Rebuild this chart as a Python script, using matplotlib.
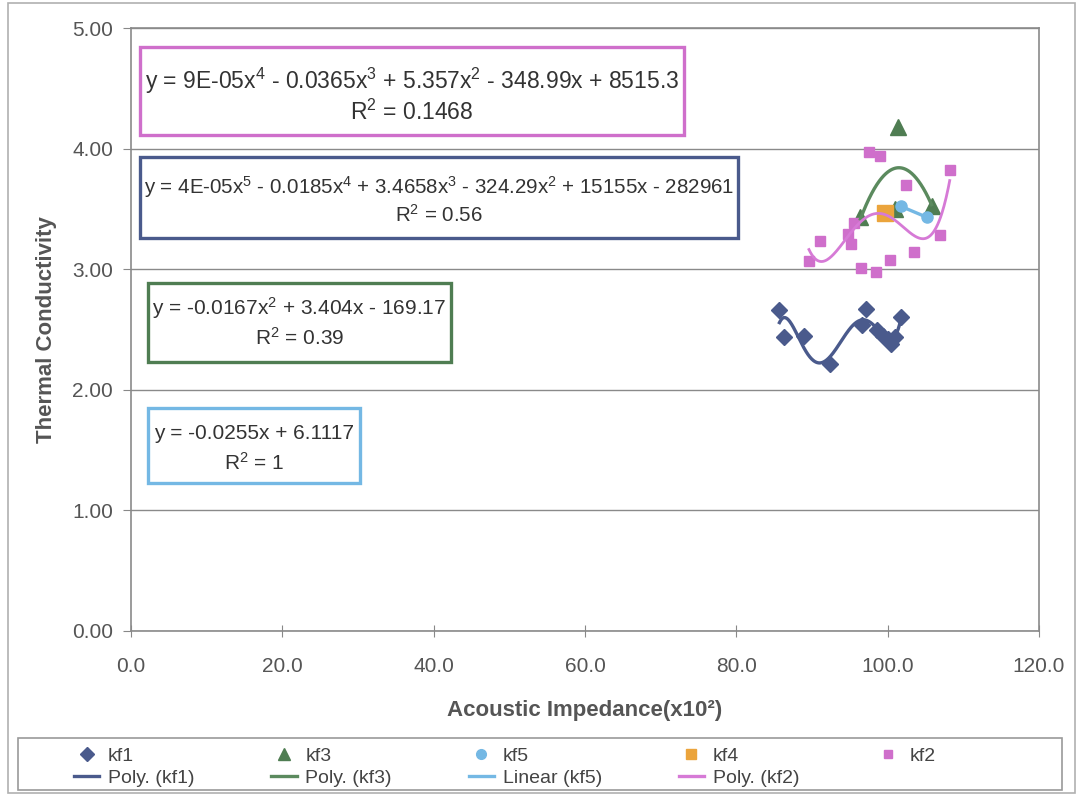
import numpy as np
import matplotlib
matplotlib.use("Agg")
import matplotlib.pyplot as plt
from matplotlib.lines import Line2D
from matplotlib.patches import Rectangle

plt.rcParams['font.family'] = ['Liberation Sans', 'DejaVu Sans']
plt.rcParams['mathtext.fontset'] = 'custom'
plt.rcParams['mathtext.rm'] = 'Liberation Sans'
plt.rcParams['mathtext.it'] = 'Liberation Sans:italic'
plt.rcParams['mathtext.bf'] = 'Liberation Sans:bold'

# measured samples
kf1_x = [85.7, 86.3, 88.9, 92.4, 96.6, 97.2, 98.6, 99.4, 100.0, 100.5, 101.0, 101.7]
kf1_y = [2.66, 2.44, 2.45, 2.21, 2.54, 2.67, 2.50, 2.45, 2.42, 2.38, 2.44, 2.60]

kf3_x = [96.4, 101.0, 101.4, 105.8]
kf3_y = [3.43, 3.50, 4.18, 3.52]

kf5_x = [101.8, 105.2]
kf5_y = [3.52, 3.43]

kf4_x = [99.7]
kf4_y = [3.47]

kf2_x = [89.6, 91.0, 94.8, 95.2, 95.5, 96.5, 97.5, 98.5, 99.0, 100.3, 102.4, 103.5, 106.9, 108.2]
kf2_y = [3.07, 3.23, 3.29, 3.21, 3.38, 3.01, 3.97, 2.98, 3.94, 3.08, 3.70, 3.14, 3.28, 3.82]

x_ticks = [0, 20, 40, 60, 80, 100, 120]
y_ticks = [0, 1, 2, 3, 4, 5]

eq_texts = [
    (r'y = 9E-05x$^{\mathrm{4}}$ - 0.0365x$^{\mathrm{3}}$ + 5.357x$^{\mathrm{2}}$ - 348.99x + 8515.3',
     r'R$^{\mathrm{2}}$ = 0.1468'),
    (r'y = 4E-05x$^{\mathrm{5}}$ - 0.0185x$^{\mathrm{4}}$ + 3.4658x$^{\mathrm{3}}$ - 324.29x$^{\mathrm{2}}$ + 15155x - 282961',
     r'R$^{\mathrm{2}}$ = 0.56'),
    (r'y = -0.0167x$^{\mathrm{2}}$ + 3.404x - 169.17', r'R$^{\mathrm{2}}$ = 0.39'),
    (r'y = -0.0255x + 6.1117', r'R$^{\mathrm{2}}$ = 1'),
]

c_kf1 = '#4a5a8c'
c_kf3 = '#4f7d52'
c_kf5 = '#74b8e4'
c_kf4 = '#eba43c'
c_kf2 = '#cf6fcb'
c_kf3_line = '#5b8a5e'
c_kf2_line = '#d67ad6'

W, H = 1079, 796
fig = plt.figure(figsize=(W / 100, H / 100), dpi=100)
fig.patch.set_facecolor('white')


def px_box(x0, y0, x1, y1):
    return x0 / W, 1 - y1 / H, (x1 - x0) / W, (y1 - y0) / H


ax = fig.add_axes(px_box(131, 28, 1039, 631))
ax.set_xlim(0, 120)
ax.set_ylim(0, 5)


def trend(xs, ys, deg):
    p = np.polynomial.Polynomial.fit(xs, ys, deg)
    xx = np.linspace(min(xs), max(xs), 200)
    return xx, p(xx)


ax.plot(kf1_x, kf1_y, 'D', color=c_kf1, ms=8, zorder=3)
ax.plot(kf3_x, kf3_y, '^', color=c_kf3, ms=11, zorder=3)
ax.plot(kf5_x, kf5_y, 'o', color=c_kf5, ms=8, zorder=3)
ax.plot(kf4_x, kf4_y, 's', color=c_kf4, ms=12, zorder=3)
ax.plot(kf2_x, kf2_y, 's', color=c_kf2, ms=6.5, zorder=3)

ax.plot(*trend(kf1_x, kf1_y, 5), color=c_kf1, lw=2.4, zorder=4)
ax.plot(*trend(kf3_x, kf3_y, 2), color=c_kf3_line, lw=2.4, zorder=4)
ax.plot(*trend(kf5_x, kf5_y, 1), color=c_kf5, lw=2.4, zorder=4)
ax.plot(*trend(kf2_x, kf2_y, 4), color=c_kf2_line, lw=2.0, zorder=4)

ax.set_xticks(x_ticks)
ax.set_yticks(y_ticks)
ax.set_xticklabels(['%.1f' % v for v in x_ticks])
ax.set_yticklabels(['%.2f' % v for v in y_ticks])
ax.tick_params(axis='y', direction='out', length=6, color='#888888',
               labelsize=15, labelcolor='#555555', pad=7)
ax.tick_params(axis='x', direction='inout', length=8, color='#888888',
               labelsize=15, labelcolor='#555555', pad=15)
ax.grid(axis='y', color='#8a8a8a', lw=1)
ax.set_axisbelow(True)
for s in ax.spines.values():
    s.set_color('#8a8a8a')
    s.set_linewidth(1.2)

ax.set_xlabel('Acoustic Impedance(x10²)', fontsize=16, fontweight='bold',
              color='#555555', labelpad=17)
ax.set_ylabel('Thermal Conductivity', fontsize=16, fontweight='bold',
              color='#555555', labelpad=11)

# equation boxes: (left, top, right, bottom) in pixels, colour, font size, line offsets
boxes = [
    ((140, 47, 684, 135), c_kf2, 16.5, -10, 21),
    ((140, 157, 738, 238), c_kf1, 14.8, -10, 17),
    ((148, 283, 451, 362), c_kf3, 15, -14, 15),
    ((148, 408, 360, 483), c_kf5, 15, -12, 17),
]
for (eq, r2), (b, col, fs, d1, d2) in zip(eq_texts, boxes):
    x0, y0, x1, y1 = b
    fig.patches.append(Rectangle((x0 / W, 1 - y1 / H), (x1 - x0) / W, (y1 - y0) / H,
                                 transform=fig.transFigure, fill=True, facecolor='white',
                                 edgecolor=col, lw=2.4, zorder=5))
    cx = (x0 + x1) / 2 / W
    cy = (y0 + y1) / 2
    fig.text(cx, 1 - (cy + d1) / H, eq, ha='center', va='center', fontsize=fs,
             color='#333333', zorder=6)
    fig.text(cx, 1 - (cy + d2) / H, r2, ha='center', va='center', fontsize=fs,
             color='#333333', zorder=6)

# legend
h_kf1 = Line2D([], [], ls='none', marker='D', color=c_kf1, ms=7)
h_kf3 = Line2D([], [], ls='none', marker='^', color=c_kf3, ms=8)
h_kf5 = Line2D([], [], ls='none', marker='o', color=c_kf5, ms=7)
h_kf4 = Line2D([], [], ls='none', marker='s', color=c_kf4, ms=7)
h_kf2 = Line2D([], [], ls='none', marker='s', color=c_kf2, ms=6)
l_kf1 = Line2D([], [], color=c_kf1, lw=2.4)
l_kf3 = Line2D([], [], color=c_kf3_line, lw=2.4)
l_kf5 = Line2D([], [], color=c_kf5, lw=2.4)
l_kf2 = Line2D([], [], color=c_kf2_line, lw=2.4)
handles = [h_kf1, l_kf1, h_kf3, l_kf3, h_kf5, l_kf5, h_kf4, l_kf2, h_kf2]
labels = ['kf1', 'Poly. (kf1)', 'kf3', 'Poly. (kf3)', 'kf5', 'Linear (kf5)',
          'kf4', 'Poly. (kf2)', 'kf2']
fig.legend(handles, labels, ncol=5, loc='upper left', mode='expand',
           bbox_to_anchor=px_box(74, 747, 936, 792), fontsize=14,
           frameon=False, handlelength=1.3, handletextpad=0.45,
           borderaxespad=0, labelspacing=0.25, borderpad=0,
           labelcolor='#444444')
fig.patches.append(Rectangle((18 / W, 1 - 790 / H), 1044 / W, 52 / H,
                             transform=fig.transFigure, fill=False,
                             edgecolor='#9a9a9a', lw=1.2))

# outer chart border
fig.patches.append(Rectangle((8 / W, 3 / H), 1 - 12 / W, 1 - 6 / H,
                             transform=fig.transFigure, fill=False,
                             edgecolor='#b0b0b0', lw=1.2))

fig.savefig('out.png', dpi=100)
